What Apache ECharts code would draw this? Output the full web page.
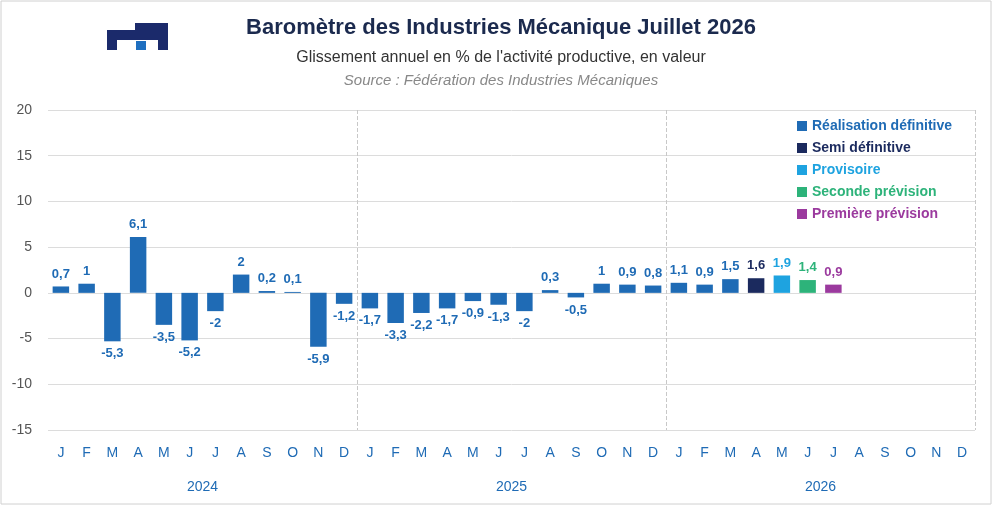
<!DOCTYPE html>
<html><head><meta charset="utf-8">
<script src="https://cdn.jsdelivr.net/npm/echarts@6/dist/echarts.min.js"></script>
<style>html,body{margin:0;padding:0;background:#fff}#c{width:993px;height:506px}</style>
</head><body><div id="c"></div>
<script>
const months = ['J','F','M','A','M','J','J','A','S','O','N','D'];
const years = ['2024','2025','2026'];
const realisation = [0.7,1,-5.3,6.1,-3.5,-5.2,-2,2,0.2,0.1,-5.9,-1.2,
  -1.7,-3.3,-2.2,-1.7,-0.9,-1.3,-2,0.3,-0.5,1,0.9,0.8, 1.1,0.9,1.5];
const semi = [[27,1.6]];
const provisoire = [[28,1.9]];
const seconde = [[29,1.4]];
const premiere = [[30,0.9]];
const names = ['Réalisation définitive','Semi définitive','Provisoire','Seconde prévision','Première prévision'];
const colors = ['#1F6BB5','#1B2A5E','#1EA3E0','#2DB37A','#9B3A9E'];

const cats = [];
years.forEach(()=>months.forEach(m=>cats.push(m)));
function full(pairs){const a=new Array(36).fill(null);pairs.forEach(([i,v])=>a[i]=v);return a;}
const seriesData = [realisation.concat(new Array(36-realisation.length).fill(null)), full(semi), full(provisoire), full(seconde), full(premiere)];

const chart = echarts.init(document.getElementById('c'));
chart.setOption({
  animation:false,
  title:[
    {text:'Baromètre des Industries Mécanique Juillet 2026',left:496,top:12,textAlign:'center',
     textStyle:{fontFamily:'Liberation Sans',fontSize:22,fontWeight:'bold',color:'#1B2A4E'}},
    {text:"Glissement annuel en % de l'activité productive, en valeur",left:496,top:45,textAlign:'center',
     textStyle:{fontFamily:'Liberation Sans',fontSize:16,fontWeight:'normal',color:'#333'}},
    {text:'Source : Fédération des Industries Mécaniques',left:496,top:68,textAlign:'center',
     textStyle:{fontFamily:'Liberation Sans',fontSize:15,fontStyle:'italic',fontWeight:'normal',color:'#888'}}
  ],
  graphic:[
    {type:'rect',shape:{x:107,y:30,width:10,height:20},style:{fill:'#1B2A6B'}},
    {type:'rect',shape:{x:107,y:30,width:60,height:10},style:{fill:'#1B2A6B'}},
    {type:'rect',shape:{x:135,y:23,width:33,height:17},style:{fill:'#1B2A6B'}},
    {type:'rect',shape:{x:158,y:23,width:10,height:27},style:{fill:'#1B2A6B'}},
    {type:'rect',shape:{x:136,y:41,width:10,height:9},style:{fill:'#1E6FC0'}},
    {type:'rect',shape:{x:1,y:1,width:990,height:503},style:{fill:'none',stroke:'#d0d0d0',lineWidth:1}}
  ],
  legend:{
    orient:'vertical',left:792,top:114,itemGap:8,itemWidth:10,itemHeight:10,icon:'rect',
    data:names.map((n,i)=>({name:n,textStyle:{color:colors[i]}})),
    textStyle:{fontFamily:'Liberation Sans',fontSize:14,fontWeight:'bold'}
  },
  grid:{left:48,right:18,top:110,bottom:76},
  xAxis:[
    {type:'category',data:cats,axisTick:{show:false},axisLine:{show:false},
     axisLabel:{color:'#1F6BB5',fontFamily:'Liberation Sans',fontSize:14,margin:16}},
    {type:'category',data:years,position:'bottom',offset:42,axisTick:{show:false},axisLine:{show:false},
     axisLabel:{color:'#1F6BB5',fontFamily:'Liberation Sans',fontSize:14,margin:8},
     splitLine:{show:true,interval:(i)=>i===1||i===2,lineStyle:{type:'dashed',color:'#c8c8c8'}}}
  ],
  yAxis:{type:'value',min:-15,max:20,interval:5,
    axisLabel:{color:'#555',fontFamily:'Liberation Sans',fontSize:14,margin:16},
    splitLine:{lineStyle:{color:'#dcdcdc'}}},
  series:seriesData.map((d,i)=>({
    name:names[i],type:'bar',stack:'s',barWidth:'64%',
    data:d.map(v=>v==null?null:{value:v,label:{position:v>=0?'top':'bottom'}}),
    itemStyle:{color:colors[i]},
    label:{show:true,distance:6,
      formatter:p=>String(p.value).replace('.',','),
      color:colors[i],fontFamily:'Liberation Sans',fontWeight:'bold',fontSize:13}
  }))
});
</script></body></html>
